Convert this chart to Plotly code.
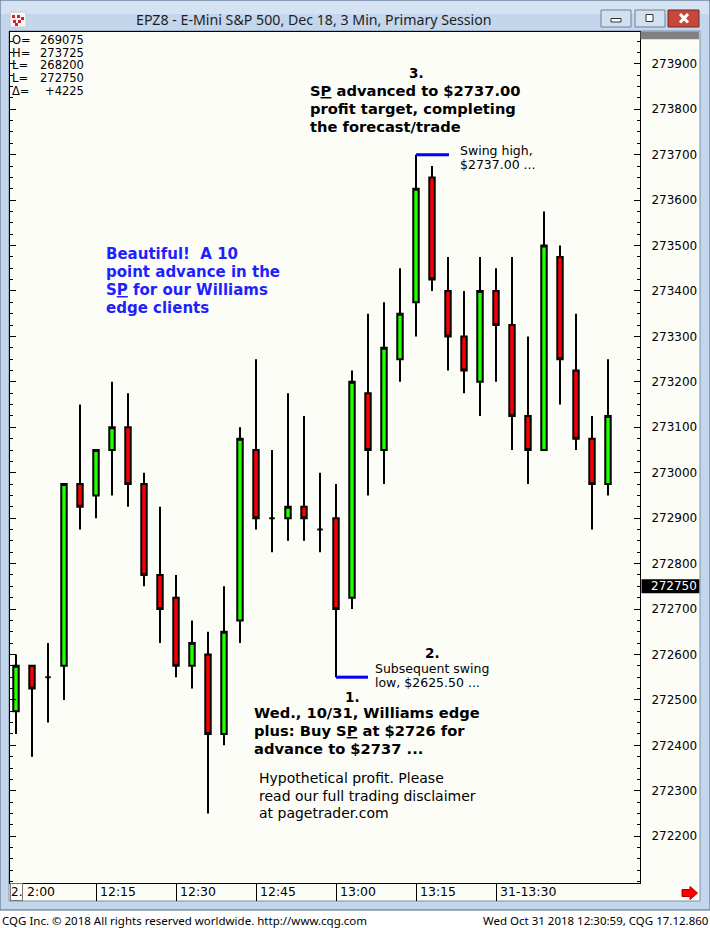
import plotly.graph_objects as go

# 3 minute bars, EPZ8, 31 Oct 2018 (values as CQG prints them)
times = [
    "12:00", "12:03", "12:06", "12:09", "12:12", "12:15", "12:18", "12:21",
    "12:24", "12:27", "12:30", "12:33", "12:36", "12:39", "12:42", "12:45",
    "12:48", "12:51", "12:54", "12:57", "13:00", "13:03", "13:06", "13:09",
    "13:12", "13:15", "13:18", "13:21", "13:24", "13:27", "13:30", "13:33",
    "13:36", "13:39", "13:42", "13:45", "13:48", "13:51",
]
opens = [
    272475, 272575, 272550, 272575, 272975, 272950, 273050, 273100,
    272975, 272775, 272725, 272575, 272600, 272425, 272675, 273050,
    272900, 272900, 272925, 272875, 272900, 272725, 273175, 273050,
    273250, 273375, 273650, 273400, 273300, 273200, 273400, 273325,
    273125, 273050, 273475, 273225, 273075, 272975,
]
highs = [
    272600, 272575, 272625, 272975, 273150, 273050, 273200, 273175,
    273000, 272925, 272775, 272675, 272650, 272750, 273100, 273250,
    273050, 273175, 273125, 273000, 272975, 273225, 273350, 273375,
    273450, 273700, 273675, 273475, 273400, 273475, 273450, 273475,
    273300, 273575, 273500, 273350, 273125, 273250,
]
lows = [
    272425, 272375, 272450, 272500, 272875, 272900, 272950, 272925,
    272750, 272625, 272550, 272525, 272250, 272400, 272625, 272875,
    272825, 272850, 272850, 272825, 272550, 272700, 272950, 272975,
    273200, 273300, 273400, 273225, 273175, 273125, 273200, 273050,
    272975, 273050, 273150, 273050, 272875, 272950,
]
closes = [
    272575, 272525, 272550, 272975, 272925, 273050, 273100, 272975,
    272775, 272700, 272575, 272625, 272425, 272650, 273075, 272900,
    272900, 272925, 272900, 272875, 272700, 273200, 273050, 273275,
    273350, 273625, 273425, 273300, 273225, 273400, 273325, 273125,
    273050, 273500, 273250, 273075, 272975, 273125,
]

day = "2018-10-31 "
tick_times = ["12:00", "12:15", "12:30", "12:45", "13:00", "13:15", "13:30"]
# first label is half hidden behind the "2." box in the original, only "2:00" shows
tick_text = ["2:00", "12:15", "12:30", "12:45", "13:00", "13:15", "31-13:30"]

price_ticks = [
    272200, 272300, 272400, 272500, 272600, 272700, 272800, 272900, 273000,
    273100, 273200, 273300, 273400, 273500, 273600, 273700, 273800, 273900,
]

info_keys = ["O=", "H=", "L=", "L=", "\u0394="]
info_vals = ["269075", "273725", "268200", "272750", "+4225"]

last_price = 272750
swing_high = 273700
swing_low = 272550

# pixel geometry of the plot box ------------------------------------------
L, R, T, B = 10, 640, 32, 883
W, H = R - L, B - T


def px(x):
    return (x - L) / W


def py(y):
    return (B - y) / H


CREAM = "#fdfdf8"
FRAME = "#c4d6eb"
INK = "#000000"
BLUE = "#1f1fff"

fig = go.Figure()
fig.add_trace(go.Candlestick(
    x=[day + t for t in times],
    open=opens, high=highs, low=lows, close=closes,
    increasing=dict(line=dict(color="black", width=2), fillcolor="#22ff00"),
    decreasing=dict(line=dict(color="black", width=2), fillcolor="#ff0000"),
    whiskerwidth=0,
    hoverinfo="skip",
))

# blue swing markers
fig.add_shape(type="line", xref="x", yref="y",
              x0=day + "13:15", x1=day + "13:21:11", y0=swing_high, y1=swing_high,
              line=dict(color="#0000ff", width=3))
fig.add_shape(type="line", xref="x", yref="y",
              x0=day + "13:00", x1=day + "13:06", y0=swing_low, y1=swing_low,
              line=dict(color="#0000ff", width=3))


# window chrome ----------------------------------------------------------
def rect(x0, y0, x1, y1, fill, line=None, lw=1, layer="below"):
    fig.add_shape(type="rect", xref="paper", yref="paper",
                  x0=px(x0), x1=px(x1), y0=py(y0), y1=py(y1),
                  fillcolor=fill, layer=layer,
                  line=dict(color=line or fill, width=lw if line else 0))


rect(0, 0, 710, 910, FRAME, "#4f6680")
rect(1, 1, 709, 14, "#d4e2f1")
rect(9, 31, 700, 901, CREAM, "#7d90a6")
# title bar icon
rect(10, 12, 26, 27, "#f6f6f6", "#c9c9c9", layer="above")
for (a, b) in [(12, 15), (17, 15), (21, 17), (13, 20), (18, 20), (15, 23)]:
    rect(a, b, a + 3, b + 3, "#d4202a", layer="above")
# caption buttons
rect(601, 10, 631, 27, "#d3e0ef", "#6e8098", layer="above")
rect(635, 10, 665, 27, "#d3e0ef", "#6e8098", layer="above")
rect(668, 10, 699, 27, "#c8473a", "#6b2a22", layer="above")
rect(611, 18.5, 621, 22, "#ffffff", "#333333", layer="above")
rect(646, 14.5, 653, 21.5, "#ffffff", "#333333", layer="above")
for (a, b, c, d) in [(680, 14, 688, 22.5), (688, 14, 680, 22.5)]:
    fig.add_shape(type="line", xref="paper", yref="paper",
                  x0=px(a), x1=px(c), y0=py(b), y1=py(d),
                  line=dict(color="white", width=3))
# right axis boxes
rect(640.5, 31.5, 699, 39.3, "#808080", layer="above")
rect(641.5, 579.3, 699.3, 593.3, "#000000", layer="above")
# red arrow bottom right
fig.add_shape(type="path", xref="paper", yref="paper", fillcolor="#ff0000",
              line=dict(color="#b00000", width=1),
              path="M {} {} L {} {} L {} {} L {} {} L {} {} L {} {} L {} {} Z".format(
                  px(682), py(889.5), px(690), py(889.5), px(690), py(886.5),
                  px(697.5), py(893), px(690), py(899.5), px(690), py(896.5),
                  px(682), py(896.5)))

ann = []


def text(x, y, s, size=12, color=INK, anchor="left", family="DejaVu Sans", **kw):
    ann.append(dict(x=px(x), y=py(y), xref="paper", yref="paper", text=s,
                    showarrow=False, xanchor=anchor, yanchor="middle",
                    font=dict(family=family, size=size, color=color), **kw))


# title and footer
text(134, 19, "EPZ8 - E-Mini S&P 500, Dec 18, 3 Min, Primary Session",
     size=14.2, color="#1e1e1e", family="Noto Sans")
text(0, 920, "CQG Inc. \u00a9 2018 All rights reserved worldwide. http://www.cqg.com",
     size=11.5, family="Noto Sans")
text(711, 920, "Wed Oct 31 2018 12:30:59, CQG 17.12.860",
     size=11.5, family="Noto Sans", anchor="right")

# OHLC readout
for i, (k, v) in enumerate(zip(info_keys, info_vals)):
    yy = 40 + i * 12.7
    text(10.5, yy, k, size=11.5, borderpad=0)
    text(85, yy, v, size=11.5, anchor="right", borderpad=0)

# last price marker
text(649, 586.3, str(last_price), color="white")

# time axis labels
for t, s in zip(tick_times, tick_text):
    shift = 9 if s == "2:00" else 2
    ann.append(dict(x=day + t, xref="x", y=py(891.7), yref="paper", text=s,
                    showarrow=False, xanchor="left", yanchor="middle", xshift=shift,
                    font=dict(family="DejaVu Sans", size=12.5, color=INK)))
ann.append(dict(x=px(9.5), y=py(882.7), xref="paper", yref="paper", text="2.",
                showarrow=False, xanchor="left", yanchor="top", align="left",
                width=11, height=16, borderpad=0, bgcolor=CREAM,
                bordercolor="#7a7a7a", borderwidth=1,
                font=dict(family="DejaVu Sans", size=12, color=INK)))

# commentary
BS = 14.7
text(416.5, 73, "<b>3.</b>", size=13.5, anchor="center")
for i, s in enumerate(["S<u>P</u> advanced to $2737.00",
                       "profit target, completing",
                       "the forecast/trade"]):
    text(308, 90.7 + i * 18, "<b>" + s + "</b>", size=BS)
for i, s in enumerate(["Swing high,", "$2737.00 ..."]):
    text(457.5, 150.7 + i * 14, s, size=12.5)
for i, s in enumerate(["Beautiful!\u00a0 A 10", "point advance in the",
                       "S<u>P</u> for our Williams", "edge clients"]):
    text(104, 254 + i * 18.1, "<b>" + s + "</b>", size=15, color=BLUE)
text(432.5, 653.3, "<b>2.</b>", size=13.5, anchor="center")
for i, s in enumerate(["Subsequent swing", "low, $2625.50 ..."]):
    text(373.5, 668.7 + i * 14, s, size=12.5)
text(353, 696.7, "<b>1.</b>", size=13.5, anchor="center")
for i, s in enumerate(["Wed., 10/31, Williams edge",
                       "plus: Buy S<u>P</u> at $2726 for",
                       "advance to $2737 ..."]):
    text(251.5, 712.7 + i * 18, "<b>" + s + "</b>", size=BS)
for i, s in enumerate(["Hypothetical profit. Please",
                       "read our full trading disclaimer",
                       "at pagetrader.com"]):
    text(256.5, 777.7 + i * 17.8, s, size=14)

fig.update_layout(
    width=710, height=928,
    margin=dict(l=L, r=710 - R, t=T, b=928 - B, pad=0),
    paper_bgcolor="#ffffff", plot_bgcolor=CREAM,
    showlegend=False, hovermode=False,
    boxgap=0.66, boxgroupgap=0,
    annotations=ann,
    font=dict(family="DejaVu Sans", size=12, color=INK),
)
fig.update_xaxes(
    type="date", range=[day + "11:58:52.5", day + "13:57:00"],
    rangeslider=dict(visible=False), showgrid=False, zeroline=False,
    showline=True, mirror=True, linecolor="black", linewidth=1,
    tickvals=[day + t for t in tick_times], showticklabels=False,
    ticks="outside", ticklen=17, tickwidth=1, tickcolor="black",
)
fig.update_yaxes(
    side="right", range=[272097, 273970], showgrid=False, zeroline=False,
    showline=True, mirror="ticks", linecolor="black", linewidth=1,
    tickvals=price_ticks, tickformat="d", ticks="inside", ticklen=6,
    tickcolor="black", ticklabelstandoff=8,
    tickfont=dict(family="DejaVu Sans", size=12, color=INK),
    minor=dict(tick0=0, dtick=25, ticks="inside", ticklen=3, tickcolor="black"),
)

fig.write_html(
    "out.html",
    config={"displayModeBar": False},
    post_script="document.body.style.margin='0';"
                "document.documentElement.style.overflow='hidden';",
)
